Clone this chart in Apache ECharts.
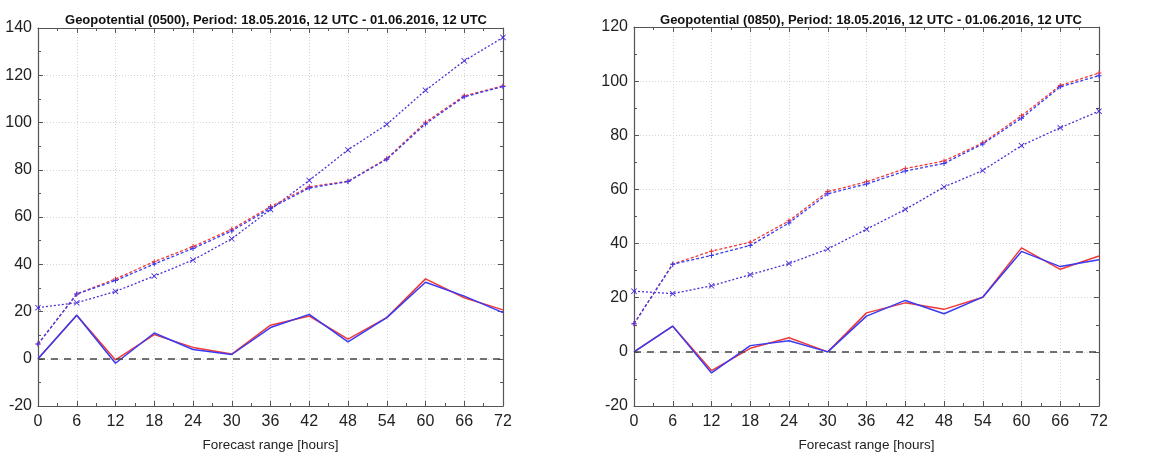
<!DOCTYPE html>
<html>
<head>
<meta charset="utf-8">
<script src="https://cdn.jsdelivr.net/npm/echarts@6/dist/echarts.min.js"></script>
<style>
  html, body { margin: 0; padding: 0; background: #fff; }
  #chart { width: 1175px; height: 457px; }
</style>
</head>
<body>
<div id="chart"></div>
<script>
// Forecast lead times (hours)
const hours = [0, 6, 12, 18, 24, 30, 36, 42, 48, 54, 60, 66, 72];

// 500 hPa geopotential scores
const z500RmseRed  = [6.2, 27.4, 33.8, 41.1, 47.5, 54.8, 64.4, 72.8, 75.1, 84.7, 100.1, 111.3, 115.5];
const z500RmseBlue = [6.2, 27.4, 33.1, 40.1, 46.7, 54.1, 63.7, 72.3, 75.0, 84.4, 99.4, 110.9, 115.2];
const z500Spread   = [21.6, 23.7, 28.5, 35.0, 41.8, 50.8, 63.2, 75.5, 88.4, 99.2, 113.6, 126.1, 136.0];
const z500BiasRed  = [0, 18.4, -0.5, 10.2, 4.8, 2.0, 14.2, 18.1, 8.3, 17.4, 33.8, 25.8, 20.7];
const z500BiasBlue = [0, 18.4, -1.9, 10.9, 3.9, 1.8, 13.2, 18.8, 7.1, 17.4, 32.4, 26.5, 19.5];

// 850 hPa geopotential scores
const z850RmseRed  = [10.4, 32.4, 37.2, 40.5, 48.4, 59.2, 62.8, 67.7, 70.5, 77.2, 87.2, 98.4, 103.0];
const z850RmseBlue = [10.4, 32.4, 35.6, 39.3, 47.6, 58.4, 62.0, 66.8, 69.6, 76.8, 86.3, 97.9, 102.0];
const z850Spread   = [22.4, 21.5, 24.4, 28.5, 32.6, 38.0, 45.3, 52.6, 60.9, 67.0, 76.2, 82.8, 88.9];
const z850BiasRed  = [0, 9.5, -6.9, 1.3, 5.2, 0, 14.4, 18.1, 15.7, 20.2, 38.4, 30.5, 35.4];
const z850BiasBlue = [0, 9.5, -7.8, 2.3, 4.1, 0, 13.2, 19.0, 14.1, 20.2, 37.1, 31.5, 34.0];

// Axis ranges
const yRange500 = { min: -20, max: 140, interval: 20 };
const yRange850 = { min: -20, max: 120, interval: 20 };
const xRange = { min: 0, max: 72, interval: 6 };

const titles = [
  'Geopotential (0500), Period: 18.05.2016, 12 UTC - 01.06.2016, 12 UTC',
  'Geopotential (0850), Period: 18.05.2016, 12 UTC - 01.06.2016, 12 UTC'
];
const xName = 'Forecast range [hours]';

const RED = '#f03a3a';
const BLUE = '#3a3af5';
const PURPLE = '#4a2fd6';
const FONT = 'Liberation Sans, Arial, sans-serif';
const AXIS_COLOR = '#555';

const plusSymbol = 'path://M4,0H6V4H10V6H6V10H4V6H0V4H4Z';
const crossSymbol = 'path://M0,1L1,0L5,4L9,0L10,1L6,5L10,9L9,10L5,6L1,10L0,9L4,5Z';

function pairs(values) {
  return hours.map((h, i) => [h, values[i]]);
}

const grids = [
  { left: 38, right: 672, top: 28, bottom: 48 },
  { left: 634, right: 76, top: 27, bottom: 47 }
];

function xAxes(gi) {
  const base = {
    gridIndex: gi, type: 'value', min: xRange.min, max: xRange.max, interval: xRange.interval,
    axisLine: { onZero: false, lineStyle: { color: AXIS_COLOR, width: 1.2 } },
    axisTick: { inside: true, length: 5, lineStyle: { color: AXIS_COLOR } },
    minorTick: { show: true, splitNumber: 2, length: 3, lineStyle: { color: AXIS_COLOR } }
  };
  return [
    Object.assign({}, base, {
      position: 'bottom',
      name: xName, nameLocation: 'middle', nameGap: 32,
      nameTextStyle: { fontFamily: FONT, fontSize: 13.5, color: '#222' },
      axisLabel: { fontFamily: FONT, fontSize: 16, color: '#222', margin: 8 },
      splitLine: { show: true, lineStyle: { color: '#d4d4d4', type: [1, 2], width: 1 } }
    }),
    Object.assign({}, base, {
      position: 'top', axisLabel: { show: false }, splitLine: { show: false }
    })
  ];
}

function yAxes(gi, r) {
  const base = {
    gridIndex: gi, type: 'value', min: r.min, max: r.max, interval: r.interval,
    axisLine: { show: true, onZero: false, lineStyle: { color: AXIS_COLOR, width: 1.2 } },
    axisTick: { show: true, inside: true, length: 5, lineStyle: { color: AXIS_COLOR } },
    minorTick: { show: true, splitNumber: 2, length: 3, lineStyle: { color: AXIS_COLOR } }
  };
  return [
    Object.assign({}, base, {
      position: 'left',
      axisLabel: { fontFamily: FONT, fontSize: 16, color: '#222', margin: 6 },
      splitLine: { show: true, lineStyle: { color: '#d4d4d4', type: [1, 2], width: 1 } }
    }),
    Object.assign({}, base, {
      position: 'right', axisLabel: { show: false }, splitLine: { show: false }
    })
  ];
}

function panelSeries(gi, rmseRed, rmseBlue, spread, biasRed, biasBlue) {
  const xi = gi * 2, yi = gi * 2;
  const common = { xAxisIndex: xi, yAxisIndex: yi, animation: false, silent: true };
  return [
    Object.assign({}, common, {
      type: 'line', name: 'spread', data: pairs(spread),
      symbol: crossSymbol, symbolSize: 6,
      itemStyle: { color: PURPLE },
      lineStyle: { color: PURPLE, width: 1.3, type: [2, 2] }
    }),
    Object.assign({}, common, {
      type: 'line', name: 'rmse ref', data: pairs(rmseRed),
      symbol: plusSymbol, symbolSize: 5,
      itemStyle: { color: RED },
      lineStyle: { color: RED, width: 1.3, type: [3, 2] }
    }),
    Object.assign({}, common, {
      type: 'line', name: 'rmse exp', data: pairs(rmseBlue),
      symbol: plusSymbol, symbolSize: 5,
      itemStyle: { color: BLUE },
      lineStyle: { color: BLUE, width: 1.3, type: [3, 2] }
    }),
    Object.assign({}, common, {
      type: 'line', name: 'bias ref', data: pairs(biasRed),
      symbol: 'none',
      lineStyle: { color: RED, width: 1.5 },
      markLine: {
        silent: true, symbol: 'none', label: { show: false },
        lineStyle: { color: '#444', type: [7, 6], width: 1.6 },
        data: [{ yAxis: 0 }]
      }
    }),
    Object.assign({}, common, {
      type: 'line', name: 'bias exp', data: pairs(biasBlue),
      symbol: 'none',
      lineStyle: { color: BLUE, width: 1.5 }
    })
  ];
}

const chart = echarts.init(document.getElementById('chart'), null, { renderer: 'canvas' });
chart.setOption({
  backgroundColor: '#fff',
  animation: false,
  title: [
    { text: titles[0], left: 271, top: 9, textAlign: 'center',
      textStyle: { fontFamily: FONT, fontSize: 13, fontWeight: 'bold', color: '#111' } },
    { text: titles[1], left: 866, top: 9, textAlign: 'center',
      textStyle: { fontFamily: FONT, fontSize: 13, fontWeight: 'bold', color: '#111' } }
  ],
  grid: grids,
  xAxis: [...xAxes(0), ...xAxes(1)],
  yAxis: [...yAxes(0, yRange500), ...yAxes(1, yRange850)],
  series: [
    ...panelSeries(0, z500RmseRed, z500RmseBlue, z500Spread, z500BiasRed, z500BiasBlue),
    ...panelSeries(1, z850RmseRed, z850RmseBlue, z850Spread, z850BiasRed, z850BiasBlue)
  ]
});
</script>
</body>
</html>
